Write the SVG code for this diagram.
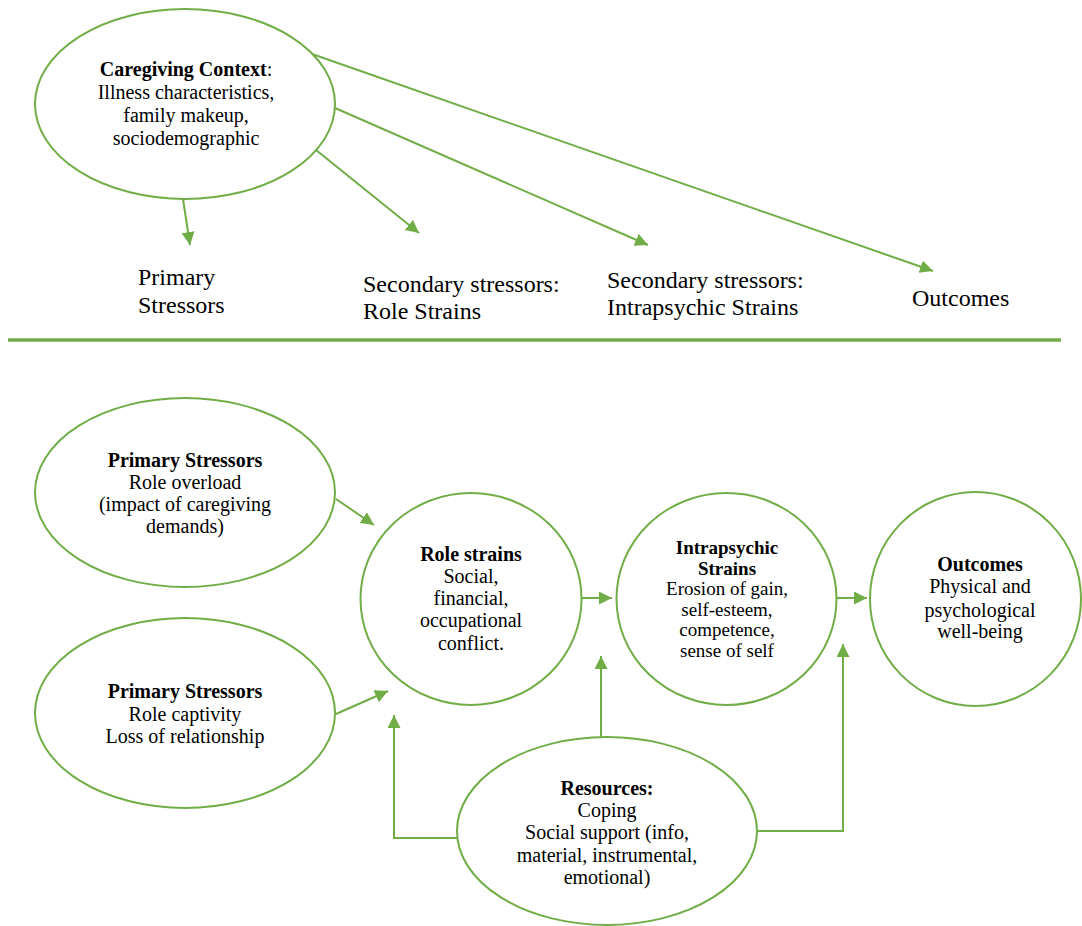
<svg xmlns="http://www.w3.org/2000/svg" width="1082" height="926" viewBox="0 0 1082 926">
<style>
.n{fill:#fff;stroke:#70AD47;stroke-width:2}
.c{fill:none;stroke:#70AD47;stroke-width:2}
.a{marker-end:url(#ah)}
text{font-family:"Liberation Serif","Times New Roman",serif;fill:#000}
.t{font-size:20px;text-anchor:middle}
.s{font-size:19px}
.b{font-weight:bold}
.l{font-size:24px}
</style>
<defs>
<marker id="ah" markerUnits="userSpaceOnUse" markerWidth="14" markerHeight="14" refX="13" refY="6.5" orient="auto">
<path d="M0,0 L13,6.5 L0,13 z" fill="#70AD47"/>
</marker>
</defs>
<rect width="1082" height="926" fill="#fff"/>
<g id="connectors">
<line class="c a" x1="183" y1="199" x2="190" y2="245"/>
<line class="c a" x1="316" y1="150" x2="419" y2="233"/>
<line class="c a" x1="335" y1="108" x2="648" y2="245"/>
<line class="c a" x1="312" y1="54" x2="933" y2="271"/>
<line x1="8" y1="340" x2="1061" y2="340" stroke="#70AD47" stroke-width="3.5"/>
<line class="c a" x1="336" y1="499" x2="374" y2="525"/>
<line class="c a" x1="336" y1="714" x2="388" y2="691"/>
<line class="c a" x1="582" y1="598" x2="612" y2="598"/>
<line class="c a" x1="837" y1="598" x2="867" y2="598"/>
<polyline class="c a" points="457,838 394,838 394,715"/>
<line class="c a" x1="601" y1="737" x2="601" y2="656"/>
<polyline class="c a" points="757,831 843,831 843,644"/>
</g>
<g id="context">
<ellipse class="n" cx="185" cy="104" rx="150" ry="95"/>
<text class="t" x="186" y="76"><tspan class="b">Caregiving Context</tspan>:</text>
<text class="t" x="186" y="99">Illness characteristics,</text>
<text class="t" x="186" y="122">family makeup,</text>
<text class="t" x="186" y="145">sociodemographic</text>
</g>
<g id="label-primary"><text class="l" x="138" y="285">Primary</text><text class="l" x="138" y="313">Stressors</text></g>
<g id="label-role"><text class="l" x="363" y="292">Secondary stressors:</text><text class="l" x="363" y="319">Role Strains</text></g>
<g id="label-intra"><text class="l" x="607" y="288">Secondary stressors:</text><text class="l" x="607" y="315">Intrapsychic Strains</text></g>
<g id="label-outcomes"><text class="l" x="912" y="306">Outcomes</text></g>
<g id="primary1">
<ellipse class="n" cx="185" cy="492.5" rx="150" ry="94.5"/>
<text class="t b" x="185" y="467">Primary Stressors</text>
<text class="t" x="185" y="489">Role overload</text>
<text class="t" x="185" y="511">(impact of caregiving</text>
<text class="t" x="185" y="533">demands)</text>
</g>
<g id="primary2">
<ellipse class="n" cx="185" cy="713" rx="150" ry="95"/>
<text class="t b" x="185" y="698">Primary Stressors</text>
<text class="t" x="185" y="721">Role captivity</text>
<text class="t" x="185" y="743">Loss of relationship</text>
</g>
<g id="rolestrains">
<ellipse class="n" cx="471" cy="599" rx="110.5" ry="106"/>
<text class="t b" x="471" y="561">Role strains</text>
<text class="t" x="471" y="583">Social,</text>
<text class="t" x="471" y="605">financial,</text>
<text class="t" x="471" y="627">occupational</text>
<text class="t" x="471" y="650">conflict.</text>
</g>
<g id="intrapsychic">
<ellipse class="n" cx="726.5" cy="599" rx="110" ry="106"/>
<text class="t s b" x="727" y="554">Intrapsychic</text>
<text class="t s b" x="727" y="574.5">Strains</text>
<text class="t s" x="727" y="595">Erosion of gain,</text>
<text class="t s" x="727" y="615.5">self-esteem,</text>
<text class="t s" x="727" y="636">competence,</text>
<text class="t s" x="727" y="656.5">sense of self</text>
</g>
<g id="outcomes">
<ellipse class="n" cx="975.5" cy="599" rx="105.5" ry="107"/>
<text class="t b" x="980" y="571">Outcomes</text>
<text class="t" x="980" y="593">Physical and</text>
<text class="t" x="980" y="617">psychological</text>
<text class="t" x="980" y="638">well-being</text>
</g>
<g id="resources">
<ellipse class="n" cx="607" cy="831" rx="150" ry="94"/>
<text class="t b" x="607" y="795">Resources:</text>
<text class="t" x="607" y="817">Coping</text>
<text class="t" x="607" y="839">Social support (info,</text>
<text class="t" x="607" y="862">material, instrumental,</text>
<text class="t" x="607" y="884">emotional)</text>
</g>
</svg>
